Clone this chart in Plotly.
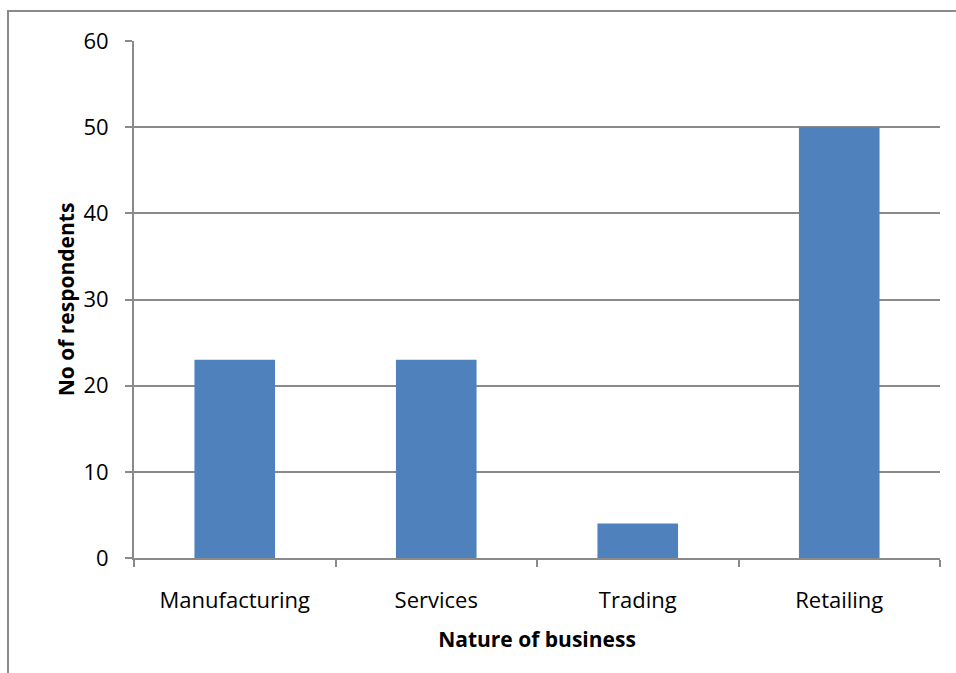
import plotly.graph_objects as go

categories = ["Manufacturing", "Services", "Trading", "Retailing"]
respondents = [23, 23, 4, 50]
y_ticks = [0, 10, 20, 30, 40, 50, 60]

FONT = "Open Sans"
GRID = "#8a8a8a"

fig = go.Figure(go.Bar(
    x=categories, y=respondents, width=0.4,
    marker=dict(color="#4F81BD", line=dict(width=0)),
))

L, R, T, B = 134, 16, 41, 115
W, H = 956, 673
pw, ph = W - L - R, H - T - B

fig.update_layout(
    width=W, height=H,
    margin=dict(l=L, r=R, t=T, b=B),
    paper_bgcolor="white", plot_bgcolor="white",
    showlegend=False,
    font=dict(family=FONT, size=22, color="black"),
    xaxis=dict(
        showgrid=False, showline=True, linecolor=GRID, linewidth=2,
        ticks="outside", tickson="boundaries", ticklen=7, tickcolor=GRID, tickwidth=2,
        tickfont=dict(size=22), ticklabelstandoff=22,
        title=dict(text="<b>Nature of business</b>", font=dict(size=21), standoff=19),
    ),
    yaxis=dict(
        range=[0, 60], tickvals=y_ticks, showgrid=True, gridcolor=GRID, gridwidth=2,
        showline=True, linecolor=GRID, linewidth=2, zeroline=False,
        ticks="outside", ticklen=7, tickcolor=GRID, tickwidth=2,
        tickfont=dict(size=22), ticklabelstandoff=12,
        title=dict(text="<b>No of respondents</b>", font=dict(size=21), standoff=3),
    ),
    shapes=[
        dict(type="rect", xref="paper", yref="paper",
             x0=(8 - L) / pw, x1=(W + 20 - L) / pw,
             y0=-(B + 20) / ph, y1=1 + (T - 11) / ph,
             line=dict(color=GRID, width=2), fillcolor="rgba(0,0,0,0)", layer="below"),
    ],
)

fig.write_html("out.html")
